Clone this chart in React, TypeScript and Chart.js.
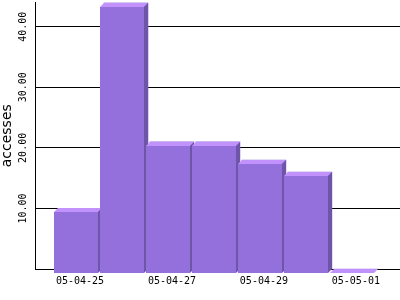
import React, { useEffect, useRef } from 'react';
import { Chart, registerables } from 'chart.js';

Chart.register(...registerables);

// ---- data ----
const categories = ['05-04-25', '05-04-26', '05-04-27', '05-04-28', '05-04-29', '05-04-30', '05-05-01'];
const accesses = [10, 44, 21, 21, 18, 16, 0];
const yTickValues = [10, 20, 30, 40];
const xLabelStep = 2;
const yTitle = 'accesses';

// ---- style ----
const FRONT = '#9370DB';
const TOP = '#C192FC';
const SIDE = '#6E55A8';
const DEPTH = 4;

const bar3d = {
  id: 'bar3d',
  afterDatasetsDraw(chart: any) {
    const ctx = chart.ctx;
    const meta = chart.getDatasetMeta(0);
    const d = DEPTH;
    ctx.save();
    meta.data.forEach((el: any) => {
      const { x, y, base, width } = el.getProps(['x', 'y', 'base', 'width'], true);
      const L = Math.round(x - width / 2);
      const R = L + Math.round(width);
      const T = Math.round(Math.min(y, base));
      const B = Math.round(Math.max(y, base));
      // front face
      ctx.fillStyle = FRONT;
      ctx.fillRect(L - d, T + d, R - L, B - T);
      // top face
      ctx.fillStyle = TOP;
      ctx.beginPath();
      ctx.moveTo(L - d, T + d);
      ctx.lineTo(L, T);
      ctx.lineTo(R, T);
      ctx.lineTo(R - d, T + d);
      ctx.closePath();
      ctx.fill();
      // side face
      ctx.fillStyle = SIDE;
      ctx.beginPath();
      ctx.moveTo(R - d, T + d);
      ctx.lineTo(R, T);
      ctx.lineTo(R, B);
      ctx.lineTo(R - d, B + d);
      ctx.closePath();
      ctx.fill();
    });
    ctx.restore();
  },
};

export default function App() {
  const ref = useRef<HTMLCanvasElement | null>(null);

  useEffect(() => {
    document.body.style.margin = '0';
    const canvas = ref.current;
    if (!canvas) return;
    const chart = new Chart(canvas, {
      type: 'bar',
      data: {
        datasets: [
          {
            label: yTitle,
            data: accesses.map((v, i) => ({ x: i, y: v })),
            backgroundColor: FRONT,
            borderWidth: 0,
            barThickness: 44,
          },
        ],
      },
      plugins: [bar3d],
      options: {
        responsive: false,
        animation: false,
        devicePixelRatio: 1,
        layout: { padding: 0 },
        plugins: {
          legend: { display: false },
          tooltip: { enabled: false },
        },
        scales: {
          x: {
            type: 'linear',
            offset: false,
            min: -0.98,
            max: 6.96,
            grid: { display: false, drawTicks: false, offset: false },
            border: { display: true, color: '#000', width: 1 },
            afterBuildTicks: (scale: any) => {
              scale.ticks = categories
                .map((_, i) => ({ value: i }))
                .filter((t) => t.value % xLabelStep === 0);
            },
            afterFit: (scale: any) => {
              scale.height = 31;
            },
            ticks: {
              autoSkip: false,
              maxRotation: 0,
              minRotation: 0,
              padding: 6,
              color: '#000',
              font: { family: '"DejaVu Sans Mono", monospace', size: 10 },
              callback: (v: any) => categories[v as number] ?? '',
            },
          },
          y: {
            type: 'linear',
            min: 0,
            max: 44,
            grid: { color: '#000', lineWidth: 1, drawTicks: false },
            border: { display: true, color: '#000', width: 1 },
            afterBuildTicks: (scale: any) => {
              scale.ticks = yTickValues.map((v) => ({ value: v }));
            },
            afterFit: (scale: any) => {
              scale.width = 35;
            },
            ticks: {
              minRotation: 90,
              maxRotation: 90,
              crossAlign: 'center',
              padding: -3.5,
              color: '#000',
              font: { family: '"DejaVu Sans Mono", monospace', size: 10 },
              callback: (v: any) => Number(v).toFixed(2),
            },
            title: {
              display: true,
              text: yTitle,
              color: '#000',
              padding: { top: 0, bottom: 0 },
              font: { family: '"DejaVu Sans", sans-serif', size: 14, lineHeight: 1 },
            },
          },
        },
      },
    } as any);
    return () => chart.destroy();
  }, []);

  return (
    <div style={{ width: 400, height: 300 }}>
      <canvas ref={ref} width={400} height={300} style={{ display: 'block' }} />
    </div>
  );
}
